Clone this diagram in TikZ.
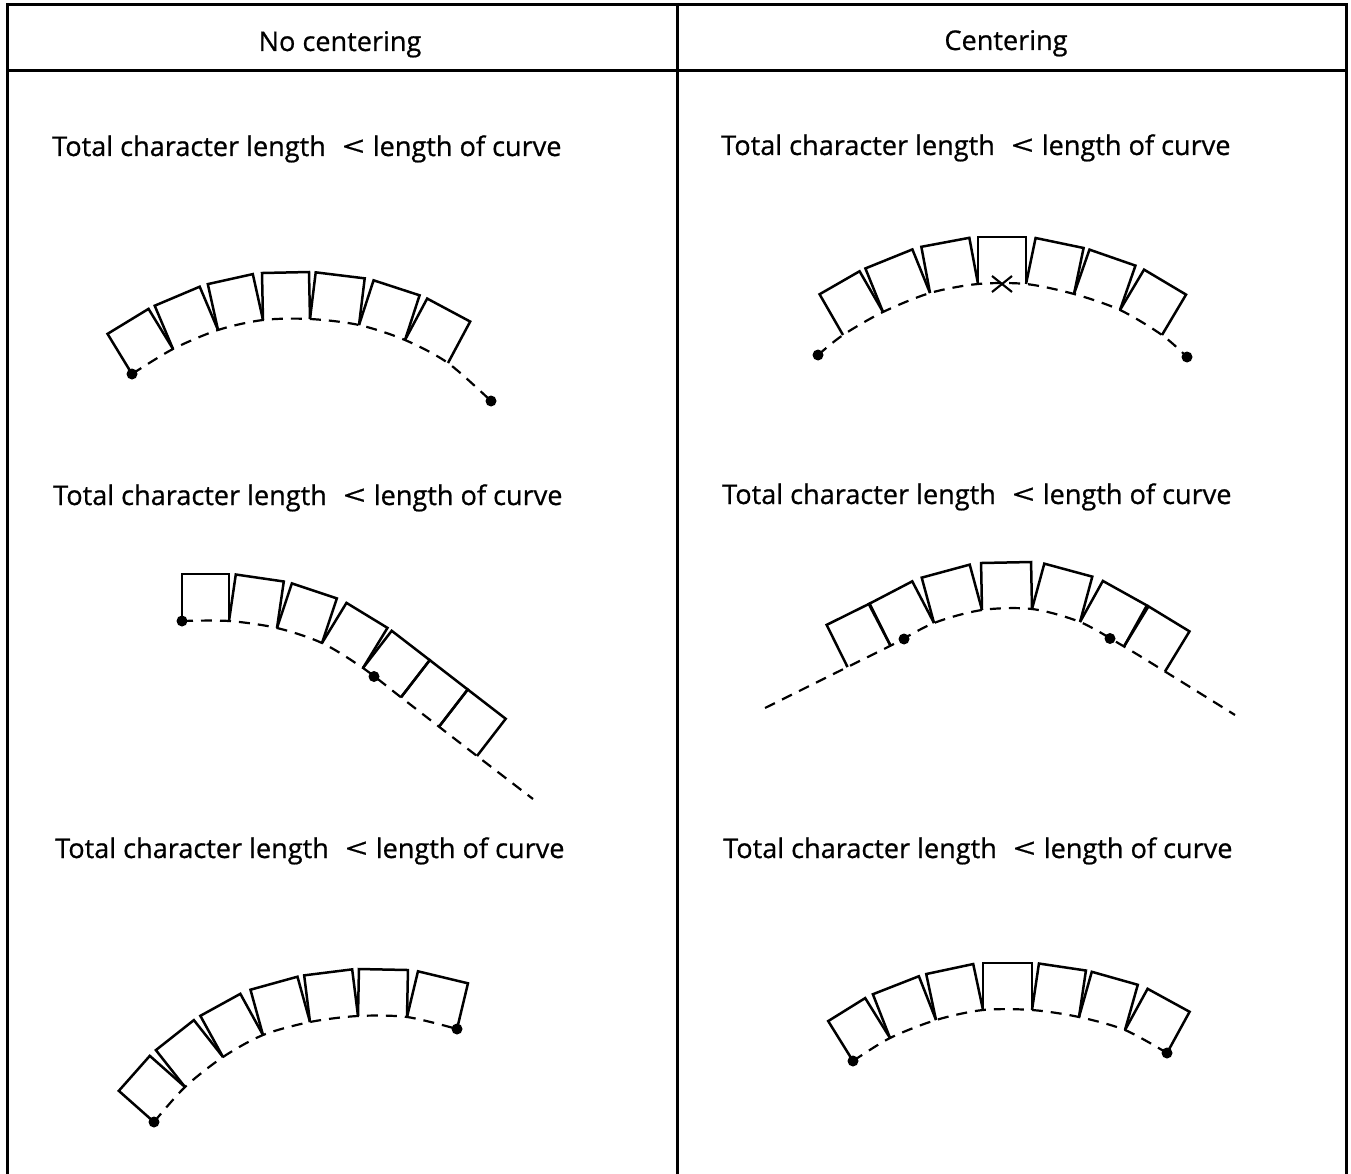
\documentclass[tikz,border=0pt]{standalone}
\usepackage{fontspec}
\setmainfont{Open Sans}
\newfontfamily\lblfont[FakeBold=0.7]{Open Sans}
\usetikzlibrary{calc}
\tikzset{
  boxline/.style={line width=2.5pt, line join=miter},
  curveline/.style={line width=2.2pt, dash pattern=on 11pt off 8pt},
  tableline/.style={line width=3pt},
  enddot/.style={circle, fill, inner sep=0pt, minimum size=11pt},
  lbl/.style={anchor=base west, inner sep=0pt, font=\lblfont\fontsize{27.1}{30}\selectfont},
  hdr/.style={anchor=base, inner sep=0pt, font=\lblfont\fontsize{27.1}{30}\selectfont},
  xmark/.style={line width=2.1pt},
}
\newcommand\charbox[2]{\draw[boxline] (#1) -- ($(#1)!47pt!90:(#2)$) -- ($(#2)!47pt!-90:(#1)$) -- (#2);}
\newcommand\sevenboxes[1]{\foreach \i/\j in {0/1,1/2,2/3,3/4,4/5,5/6,6/7}{\charbox{#1\i}{#1\j}}}
\newcommand\cmptext{Total character length\hspace{0.6em}\scalebox{1.45}[1]{<}\hspace{0.3em}length of curve}
\begin{document}
\begin{tikzpicture}[x=1pt,y=-1pt]
\useasboundingbox (0,0) rectangle (1351,1174);
% table
\draw[tableline] (7,1174) -- (7,5) -- (1346,5) -- (1346,1174);
\draw[tableline] (7,71) -- (1346,71);
\draw[tableline] (677,5) -- (677,1174);
\node[hdr] (h1) at (340,51) {No centering};
\node[hdr] (h2) at (1006,50) {Centering};
% labels
\node[lbl] (l1) at (52,156) {\cmptext};
\node[lbl] (r1) at (721,155) {\cmptext};
\node[lbl] (l2) at (53,505) {\cmptext};
\node[lbl] (r2) at (722,504) {\cmptext};
\node[lbl] (l3) at (55,858) {\cmptext};
\node[lbl] (r3) at (723,858) {\cmptext};
% ---------- diagram 1 (no centering, top)
\foreach \n/\x/\y in {0/132/374,1/173/349,2/218/330,3/263/320,4/310/319,5/359/325,6/405/340,7/448/363,8/491/401}
  \coordinate (A\n) at (\x,\y);
\draw[curveline] plot[smooth] coordinates {(A0) (A1) (A2) (A3) (A4) (A5) (A6) (A7) (A8)};
\sevenboxes{A}
\node[enddot] (da1) at (A0) {};
\node[enddot] (da2) at (A8) {};
% ---------- diagram 2 (centering, top)
\foreach \n/\x/\y in {0/843/335,1/883/312,2/930/293,3/978/284,4/1026/284,5/1074/294,6/1120/310,7/1162/335}
  \coordinate (E\n) at (\x,\y);
\coordinate (Es) at (818,355);
\coordinate (Ee) at (1187,357);
\draw[curveline] plot[smooth] coordinates {(Es) (E0) (E1) (E2) (E3) (E4) (E5) (E6) (E7) (Ee)};
\sevenboxes{E}
\node[enddot] (de1) at (Es) {};
\node[enddot] (de2) at (Ee) {};
\coordinate (Ex) at (1002,284);
\draw[xmark] ($(Ex)+(-10,-8)$) -- ($(Ex)+(10,8)$);
\draw[xmark] ($(Ex)+(-10,8)$) -- ($(Ex)+(10,-8)$);
% ---------- diagram 3 (no centering, middle)
\foreach \n/\x/\y in {0/182/621,1/229/621,2/277/628,3/322/643,4/363/668,5/401/697.3,6/439/726.7,7/477/756}
  \coordinate (C\n) at (\x,\y);
\coordinate (Ce) at (533,799);
\draw[curveline] plot[smooth] coordinates {(C0) (C1) (C2) (C3) (C4) (C5) (C6) (C7) (Ce)};
\sevenboxes{C}
\node[enddot] (dc1) at (C0) {};
\node[enddot] (dc2) at (374,676.5) {};
% ---------- diagram 4 (centering, middle)
\foreach \n/\x/\y in {0/847.5/667,1/890.5/645.7,2/934/623,3/982/610,4/1032/609,5/1080/622,6/1124/646.5,7/1165/671.5}
  \coordinate (D\n) at (\x,\y);
\coordinate (Ds) at (765,708);
\coordinate (De) at (1235,715);
\draw[curveline] plot[smooth] coordinates {(Ds) (D0) (D1) (D2) (D3) (D4) (D5) (D6) (D7) (De)};
\sevenboxes{D}
\node[enddot] (dd1) at (904,639) {};
\node[enddot] (dd2) at (1110,638.5) {};
% ---------- diagram 5 (no centering, bottom)
\foreach \n/\x/\y in {0/154/1122,1/185/1087,2/223/1057,3/263/1035,4/310/1022,5/358/1016,6/407/1017,7/457/1029}
  \coordinate (F\n) at (\x,\y);
\draw[curveline] plot[smooth] coordinates {(F0) (F1) (F2) (F3) (F4) (F5) (F6) (F7)};
\sevenboxes{F}
\node[enddot] (df1) at (F0) {};
\node[enddot] (df2) at (F7) {};
% ---------- diagram 6 (centering, bottom)
\foreach \n/\x/\y in {0/853/1061,1/890/1038,2/936/1020,3/983/1010,4/1032/1010,5/1079/1017,6/1125/1030,7/1167/1053}
  \coordinate (G\n) at (\x,\y);
\draw[curveline] plot[smooth] coordinates {(G0) (G1) (G2) (G3) (G4) (G5) (G6) (G7)};
\sevenboxes{G}
\node[enddot] (dg1) at (G0) {};
\node[enddot] (dg2) at (G7) {};
\end{tikzpicture}
\end{document}
